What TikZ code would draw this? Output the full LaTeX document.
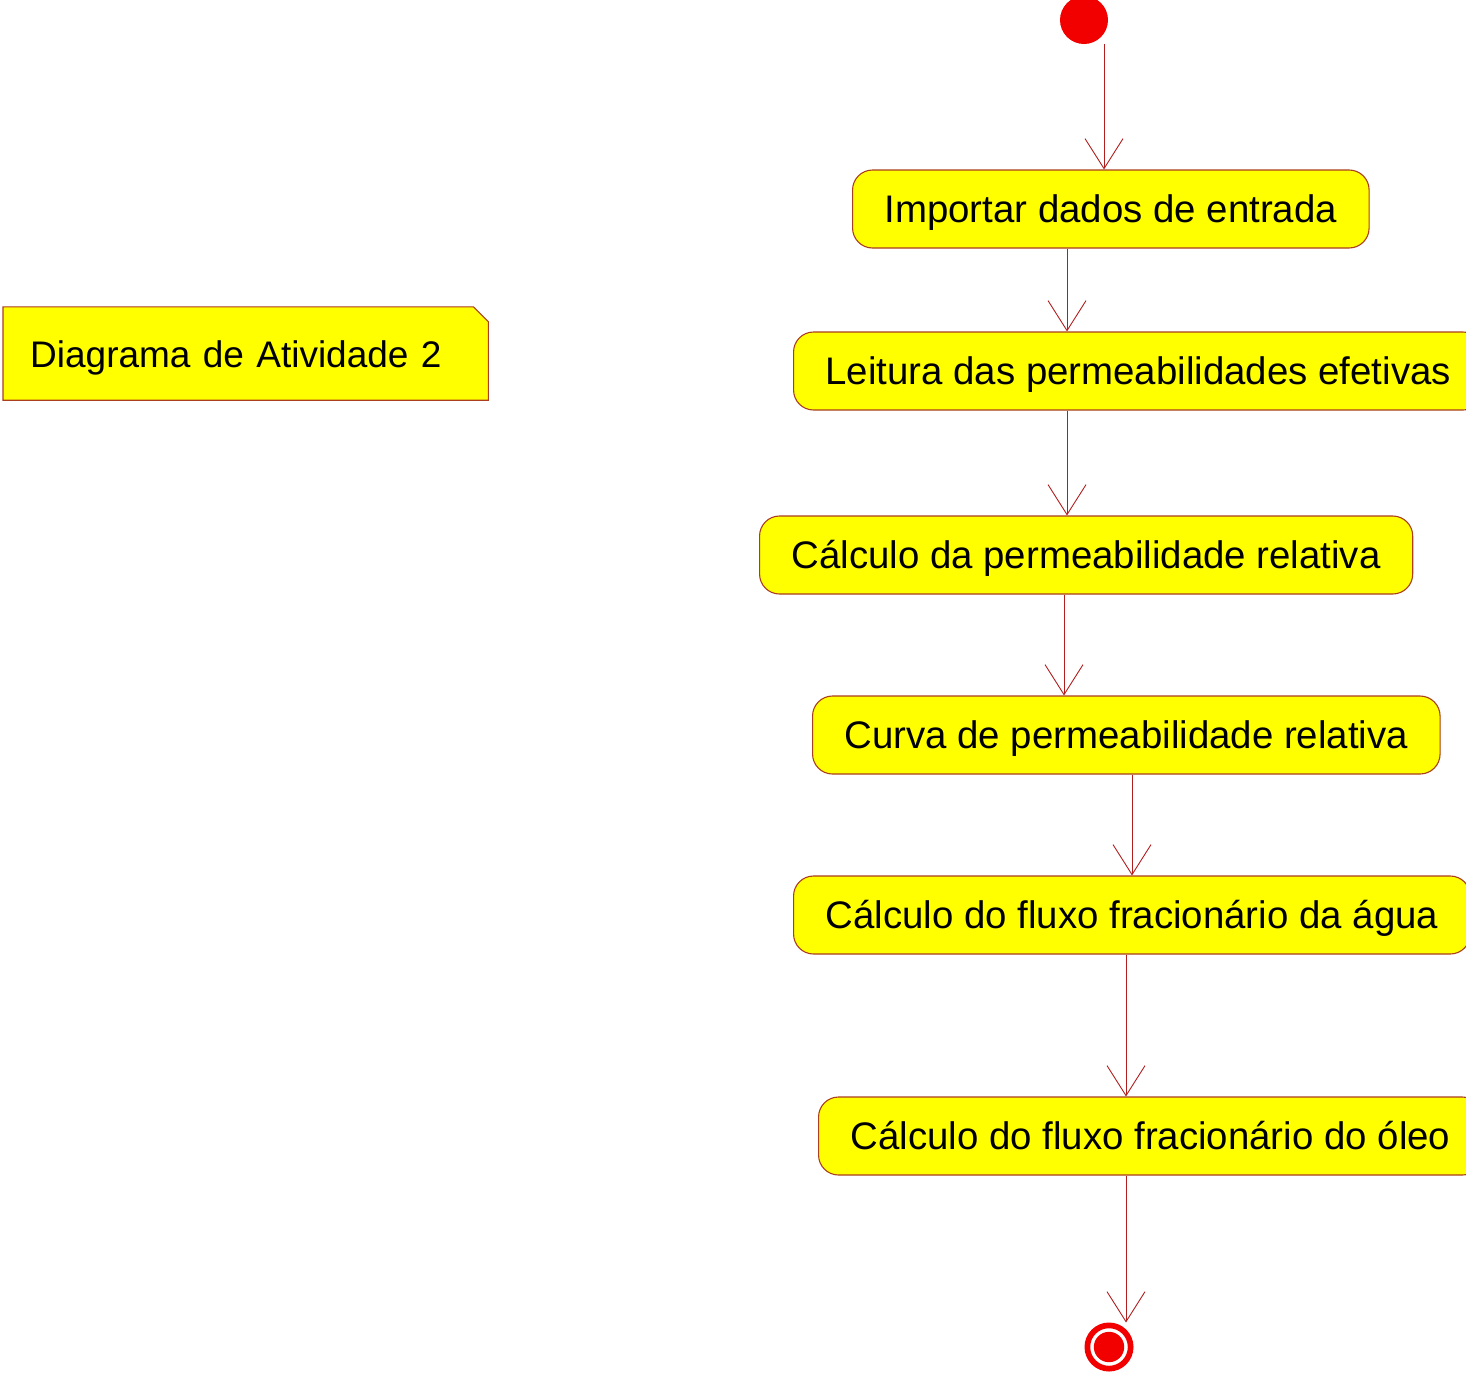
\documentclass[tikz,border=0pt]{standalone}
\usepackage{fontspec}
\setmainfont{Liberation Sans}
\usetikzlibrary{arrows.meta, positioning, backgrounds}
\usepackage{xcolor}
\definecolor{umlyellow}{RGB}{255,255,0}
\definecolor{umlborder}{RGB}{170,62,30}
\definecolor{umlline}{RGB}{176,30,30}
\definecolor{umlred}{RGB}{242,0,0}
\tikzset{%
	activity/.style={
		rounded corners=20pt,
		draw=umlborder,
		fill=umlyellow,
		line width=1.1pt,
		minimum height=78pt,
		text height=34pt,
		text depth=8pt,
		inner xsep=32pt,
		inner ysep=0pt,
		anchor=west,
		font=\fontsize{38.4}{46}\selectfont
	},
	flow/.style={
		draw=umlline,
		line width=0.9pt,
		-{Straight Barb[length=30pt,width=38pt,line width=0.9pt]}
	},
	notebox/.style={
		anchor=west,
		minimum height=93pt,
		text height=35pt,
		text depth=8pt,
		inner xsep=27pt,
		inner ysep=0pt,
		text width=431pt,
		align=left,
		font=\fontsize{37}{46}\selectfont
	},
	startstate/.style={
		circle,
		fill=umlred,
		minimum size=48pt,
		inner sep=0pt
	},
	endouter/.style={
		circle,
		draw=umlred,
		line width=5.7pt,
		fill=white,
		minimum size=43.3pt,
		inner sep=0pt
	},
	endinner/.style={
		circle,
		fill=umlred,
		minimum size=30.4pt,
		inner sep=0pt
	},
}

\begin{document}
\begin{tikzpicture}[x=1pt, y=-1pt]
	\useasboundingbox (0,0) rectangle (1466,1374);
	\clip (0,0) rectangle (1466,1374);
	
	\node[startstate] (start) at (1084,20) {};
	
	\node[activity] (importar) at (852,209) {Importar dados de entrada};
	\node[activity] (leitura) at (793,371) {Leitura das permeabilidades efetivas};
	\node[activity] (calcperm) at (759,555) {Cálculo da permeabilidade relativa};
	\node[activity] (curva) at (812,735) {Curva de permeabilidade relativa};
	\node[activity] (fluxoagua) at (793,915) {Cálculo do fluxo fracionário da água};
	\node[activity] (fluxooleo) at (818,1136) {Cálculo do fluxo fracionário do óleo};
	
	\node[endouter] (finish) at (1109,1347) {};
	\node[endinner] (finishdot) at (finish) {};
	
	\node[notebox] (note) at (3,353.5) {Diagrama de Atividade 2};
	\begin{scope}[on background layer]
		\filldraw[fill=umlyellow, draw=umlborder, line width=1.1pt]
			(note.north west) -- ([xshift=-15pt]note.north east)
			-- ([yshift=-15pt]note.north east) -- (note.south east)
			-- (note.south west) -- cycle;
	\end{scope}
	
	\draw[flow] (start.south -| 1104,0) -- (importar.north -| 1104,0);
	\draw[flow] (importar.south -| 1067,0) -- (leitura.north -| 1067,0);
	\draw[flow] (leitura.south -| 1067,0) -- (calcperm.north -| 1067,0);
	\draw[flow] (calcperm.south -| 1064,0) -- (curva.north -| 1064,0);
	\draw[flow] (curva.south -| 1132,0) -- (fluxoagua.north -| 1132,0);
	\draw[flow] (fluxoagua.south -| 1126,0) -- (fluxooleo.north -| 1126,0);
	\draw[flow] (fluxooleo.south -| 1126,0) -- (finish.north -| 1126,0);
	
\end{tikzpicture}
\end{document}
